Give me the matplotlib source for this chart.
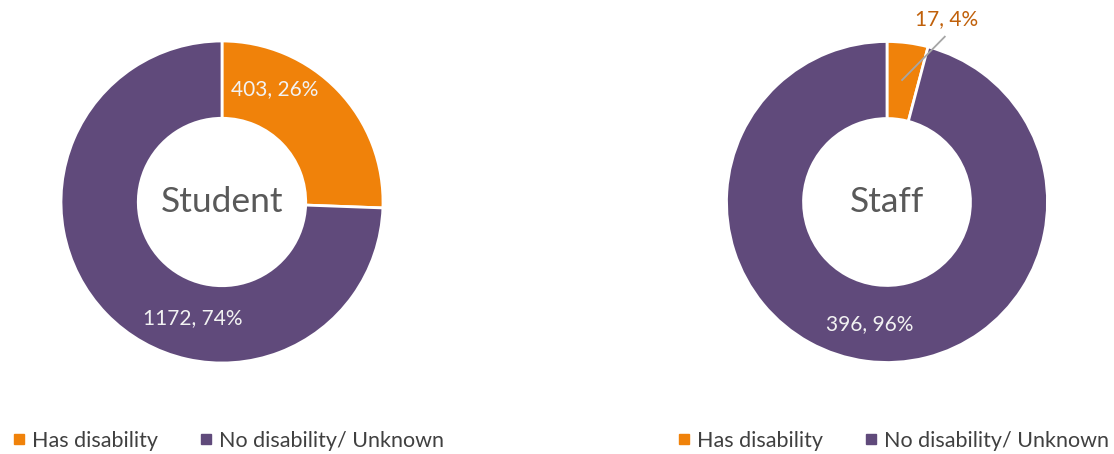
import matplotlib.pyplot as plt
from matplotlib.lines import Line2D

# data
categories = ['Has disability', 'No disability/ Unknown']
student_counts = [403, 1172]
staff_counts = [17, 396]
student_labels = ['403, 26%', '1172, 74%']
staff_labels = ['17, 4%', '396, 96%']

orange = '#F0820A'
purple = '#604A7B'
colors = [orange, purple]

plt.rcParams['font.family'] = ['Lato', 'DejaVu Sans']

W, H = 1114, 454
fig = plt.figure(figsize=(W / 100, H / 100), dpi=100)


def donut(cx, cy, r, counts, title):
    ax = fig.add_axes([(cx - r) / W, (H - cy - r) / H, 2 * r / W, 2 * r / H])
    ax.pie(counts, colors=colors, startangle=90, counterclock=False,
           radius=1.0, wedgeprops=dict(width=0.48, edgecolor='white', linewidth=2))
    ax.set_xlim(-1, 1)
    ax.set_ylim(-1, 1)
    ax.set_aspect('equal')
    ax.axis('off')
    ax.text(0, 0, title, ha='center', va='center', fontsize=25.5, color='#595959')
    return ax


ax1 = donut(222, 202, 161, student_counts, 'Student')
ax1.text(0.33, 0.70, student_labels[0], ha='center', va='center', fontsize=15, color='#F2F2F2')
ax1.text(-0.18, -0.72, student_labels[1], ha='center', va='center', fontsize=15, color='#F2F2F2')

ax2 = donut(887, 202, 160.5, staff_counts, 'Staff')
ax2.plot([0.094, 0.36], [0.76, 1.03], color='#A6A6A6', lw=1.3, clip_on=False)
ax2.text(0.37, 1.14, staff_labels[0], ha='center', va='center', fontsize=15, color='#C0600A')
ax2.text(-0.11, -0.76, staff_labels[1], ha='center', va='center', fontsize=15, color='#F2F2F2')

handles = [Line2D([], [], marker='s', ls='', color=c, markersize=6.5) for c in colors]
for x in (229, 894):
    fig.legend(handles, categories, loc='center', bbox_to_anchor=(x / W, 13 / H),
               ncol=2, frameon=False, fontsize=15.5, handlelength=0.5,
               handletextpad=0.35, columnspacing=2.0, labelcolor='#404040')

fig.savefig('out.png', dpi=100)
